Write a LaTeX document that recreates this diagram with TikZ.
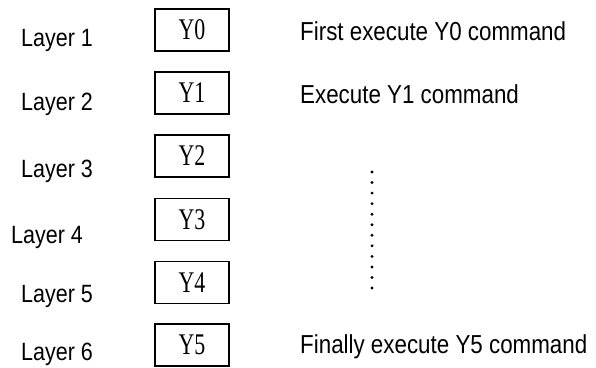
\documentclass[tikz,border=0pt]{standalone}
\usepackage{fontspec}
\setmainfont[FakeStretch=0.86]{Liberation Sans}
\newfontfamily\boxfont[FakeStretch=0.73]{Liberation Serif}
\tikzset{
  layerbox/.style={draw, line width=1.4pt, minimum width=74pt, minimum height=42pt,
    inner sep=0pt, font=\boxfont\fontsize{30}{30}\selectfont},
  layertext/.style={anchor=base west, inner sep=0pt, font=\fontsize{25}{26}\selectfont},
  cmdtext/.style={anchor=base west, inner sep=0pt, font=\fontsize{26}{28}\selectfont},
}
\begin{document}
\begin{tikzpicture}[x=1pt,y=-1pt]
    \useasboundingbox (0,0) rectangle (596,367);
    % boxes Y0 ... Y5
    \foreach \i/\yc in {0/30, 1/93, 2/156, 3/219.5, 4/282.5, 5/345}
        \node[layerbox] (y\i) at (192,\yc) {Y\i};

    % layers
    \node[layertext] (l1) at (21,46.7) {Layer 1};
    \node[layertext] (l2) at (21,110.7) {Layer 2};
    \node[layertext] (l3) at (21,177.3) {Layer 3};
    \node[layertext] (l4) at (11,243.3) {Layer 4};
    \node[layertext] (l5) at (21,302.7) {Layer 5};
    \node[layertext] (l6) at (21,360.5) {Layer 6};

    % commands
    \node[cmdtext] (c0) at (300,40) {First execute Y0 command};
    \node[cmdtext] (c1) at (300,103.3) {Execute Y1 command};
    \node[cmdtext] (c5) at (300,353.3) {Finally execute Y5 command};

    \foreach \k in {0,...,11}
        \fill (372,172+\k*10.55) circle (1.6);
\end{tikzpicture}
\end{document}
